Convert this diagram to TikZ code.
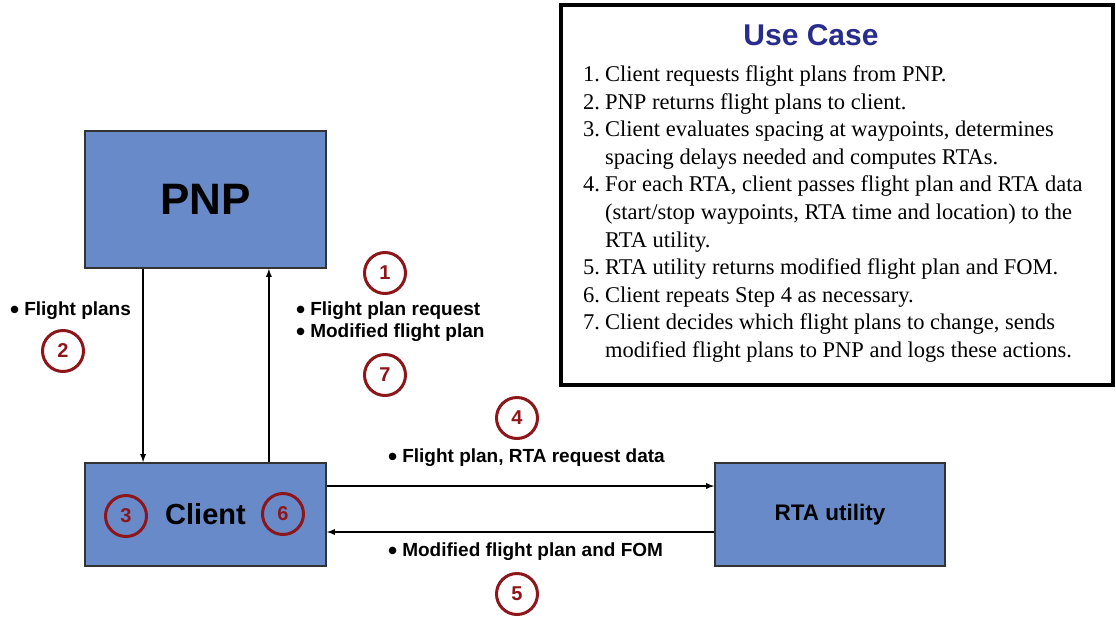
\documentclass[tikz,border=0pt]{standalone}
\usepackage{fontspec}
\setmainfont{Liberation Serif}
\setsansfont{Liberation Sans}
\usetikzlibrary{positioning}

\newcommand{\blt}{\smash{\fontsize{26}{22}\selectfont\raisebox{-2.3pt}{\textbullet}}\hspace{5pt}}

\begin{document}
\begin{tikzpicture}[x=1pt, y=-1pt,
    box/.style={draw=black!80, line width=1.8pt, fill=boxblue, inner sep=0pt},
    badge/.style={circle, draw=badgered, line width=3pt, minimum size=41pt, inner sep=0pt,
        text=badgered, font=\sffamily\bfseries\fontsize{20}{20}\selectfont},
    flow/.style={line width=1.7pt, -latex},
    lbl/.style={anchor=west, inner sep=0pt,
        font=\sffamily\bfseries\fontsize{19}{22}\selectfont}]

% Define colors
\definecolor{boxblue}{RGB}{105, 138, 200}
\definecolor{badgered}{RGB}{140, 22, 26}
\definecolor{titleblue}{RGB}{40, 44, 140}

\useasboundingbox (0, 0) rectangle (1116, 616);

% Draw the boxes
\node[box, minimum width=241pt, minimum height=137pt, font=\sffamily\bfseries\fontsize{44}{44}\selectfont]
    (pnp) at (205.5, 199.5) {PNP};
\node[box, minimum width=241pt, minimum height=103pt, font=\sffamily\bfseries\fontsize{29}{29}\selectfont]
    (client) at (205.5, 514.5) {Client};
\node[box, minimum width=230pt, minimum height=103pt, font=\sffamily\bfseries\fontsize{22.5}{22.5}\selectfont]
    (rta) at (830, 514.5) {RTA utility};

% Draw the arrows
\draw[flow] ([xshift=59pt]pnp.south west) -- ([xshift=59pt]client.north west);
\draw[flow] ([xshift=-58pt]client.north east) -- ([xshift=-58pt]pnp.south east);
\draw[flow] ([yshift=28.5pt]client.east) -- ([yshift=28.5pt]rta.west);
\draw[flow] ([yshift=-17.5pt]rta.west) -- ([yshift=-17.5pt]client.east);

% Add labels
\node[lbl] (plans) at (10, 311) {\blt Flight plans};
\node[lbl] (request) at (296, 311) {\blt Flight plan request};
\node[lbl] (modified) at (296, 333) {\blt Modified flight plan};
\node[lbl] (tortа) at (388, 458) {\blt Flight plan, RTA request data};
\node[lbl] (fromrta) at (388, 552) {\blt Modified flight plan and FOM};

% Add the numbered steps
\node[badge] (s1) at (385, 273) {1};
\node[badge] (s2) at (63, 351) {2};
\node[badge] (s3) at (126, 516) {3};
\node[badge] (s4) at (517, 418) {4};
\node[badge] (s5) at (517, 594) {5};
\node[badge] (s6) at (283, 514) {6};
\node[badge] (s7) at (385, 375) {7};

% Use case panel
\node[draw, line width=4pt, minimum width=552pt, minimum height=380pt, inner sep=0pt]
    (usecase) at (837, 195) {};
\node[text=titleblue, font=\sffamily\bfseries\fontsize{30}{30}\selectfont]
    (title) at (811, 35) {Use Case};
\node[anchor=north west, inner sep=0pt, font=\fontsize{22.5}{27.6}\selectfont]
    (steps) at (583, 62) {%
    \begin{tabular}{@{}p{22pt}@{}l@{}}
    1. & Client requests flight plans from PNP.\\
    2. & PNP returns flight plans to client.\\
    3. & Client evaluates spacing at waypoints, determines\\
       & spacing delays needed and computes RTAs.\\
    4. & For each RTA, client passes flight plan and RTA data\\
       & (start/stop waypoints, RTA time and location) to the\\
       & RTA utility.\\
    5. & RTA utility returns modified flight plan and FOM.\\
    6. & Client repeats Step 4 as necessary.\\
    7. & Client decides which flight plans to change, sends\\
       & modified flight plans to PNP and logs these actions.
    \end{tabular}};

\end{tikzpicture}
\end{document}
